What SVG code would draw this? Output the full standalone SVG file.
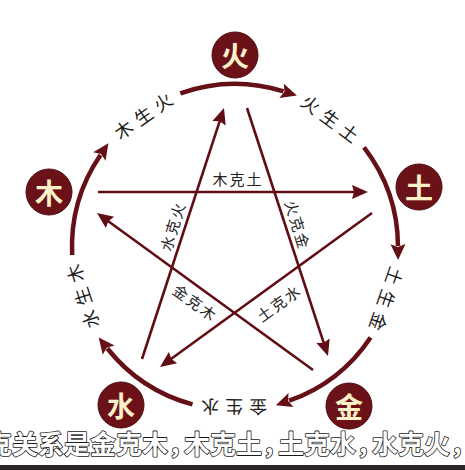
<svg xmlns="http://www.w3.org/2000/svg" width="465" height="470" viewBox="0 0 465 470">
<defs>
<style>
.node circle{fill:#6b1219;stroke:#4e0a10;stroke-width:1}
.node text{font-family:"Noto Sans CJK SC","Noto Sans",sans-serif;font-size:28px;font-weight:bold;fill:#fbf1c9;text-anchor:middle;dominant-baseline:central}
.sheng{fill:none;stroke:#650f16;stroke-width:4.5;marker-end:url(#ah)}
.ke{fill:none;stroke:#600d15;stroke-width:2.6;marker-end:url(#ak)}
.slab{font-family:"Noto Sans CJK SC","Noto Sans",sans-serif;font-size:18px;fill:#1c1c1c;text-anchor:middle;dominant-baseline:central;letter-spacing:6px}
.klab{font-family:"Noto Sans CJK SC","Noto Sans",sans-serif;font-size:15px;fill:#222;text-anchor:middle;dominant-baseline:central;letter-spacing:2px}
.sub{font-family:"Noto Sans CJK SC","Noto Sans",sans-serif;font-size:26px;font-weight:bold;fill:#fff;stroke:#1a1a1a;stroke-width:1.6;paint-order:stroke;stroke-linejoin:round}
</style>
<marker id="ah" markerUnits="userSpaceOnUse" markerWidth="18" markerHeight="16" refX="2" refY="7.5" orient="auto" overflow="visible">
<path d="M0,0 L16,7.5 L0,15 L3,7.5 z" fill="#650f16"/>
</marker>
<marker id="ak" markerUnits="userSpaceOnUse" markerWidth="18" markerHeight="16" refX="8" refY="7" orient="auto" overflow="visible">
<path d="M0,0 L16,7 L0,14 L2,7 z" fill="#600d15"/>
</marker>
</defs>
<rect width="465" height="470" fill="#ffffff"/>
<g id="connectors">
<path class="sheng" d="M180.3,93.4 A163,163 0 0 1 283.5,91.4"/>
<path class="sheng" d="M364,147.3 A163,163 0 0 1 398,246.1"/>
<path class="sheng" d="M370.6,337.4 A163,163 0 0 1 289.1,400.7"/>
<path class="sheng" d="M192.5,404.4 A163,163 0 0 1 107.4,348.5"/>
<path class="sheng" d="M72.2,255 A163,163 0 0 1 100.5,154.9"/>
<line class="ke" x1="98" y1="192" x2="360" y2="192"/>
<line class="ke" x1="247" y1="108" x2="325.5" y2="348.4"/>
<line class="ke" x1="142" y1="359" x2="221.5" y2="115.6"/>
<line class="ke" x1="313" y1="370" x2="103.5" y2="217.7"/>
<line class="ke" x1="372" y1="213" x2="166.5" y2="362.3"/>
<text class="slab" transform="translate(142.7,115.1) rotate(-35)" x="3">木生火</text>
<text class="slab" transform="translate(330.8,117.6) rotate(36.5)" x="3">火生土</text>
<text class="slab" transform="translate(387.2,299.4) rotate(109)" x="3">土生金</text>
<text class="slab" transform="translate(234.2,408) rotate(180.3)" x="3">金生水</text>
<text class="slab" transform="translate(81.9,296.8) rotate(252)" x="3">水生木</text>
<text class="klab" transform="translate(237,178)" x="1">木克土</text>
<text class="klab" transform="translate(298,224) rotate(73)" x="1">火克金</text>
<text class="klab" transform="translate(172,227) rotate(-73)" x="1">水克火</text>
<text class="klab" transform="translate(195,302) rotate(36)" x="1">金克木</text>
<text class="klab" transform="translate(278,303) rotate(-36)" x="1">土克水</text>
</g>
<g id="fire" class="node"><circle cx="235" cy="55" r="23"/><text x="235" y="55">火</text></g>
<g id="wood" class="node"><circle cx="49" cy="192" r="23"/><text x="49" y="192">木</text></g>
<g id="earth" class="node"><circle cx="419" cy="187" r="23"/><text x="419" y="187">土</text></g>
<g id="water" class="node"><circle cx="121" cy="405" r="23"/><text x="121" y="405">水</text></g>
<g id="metal" class="node"><circle cx="349" cy="406" r="23"/><text x="349" y="406">金</text></g>
<text class="sub" x="-14" y="454">克关系是金克木，<tspan dx="-10">木克土，</tspan><tspan dx="-10">土克水，</tspan><tspan dx="-10">水克火，</tspan></text>
<rect x="0" y="465" width="465" height="5" fill="#2c2526"/>
</svg>
